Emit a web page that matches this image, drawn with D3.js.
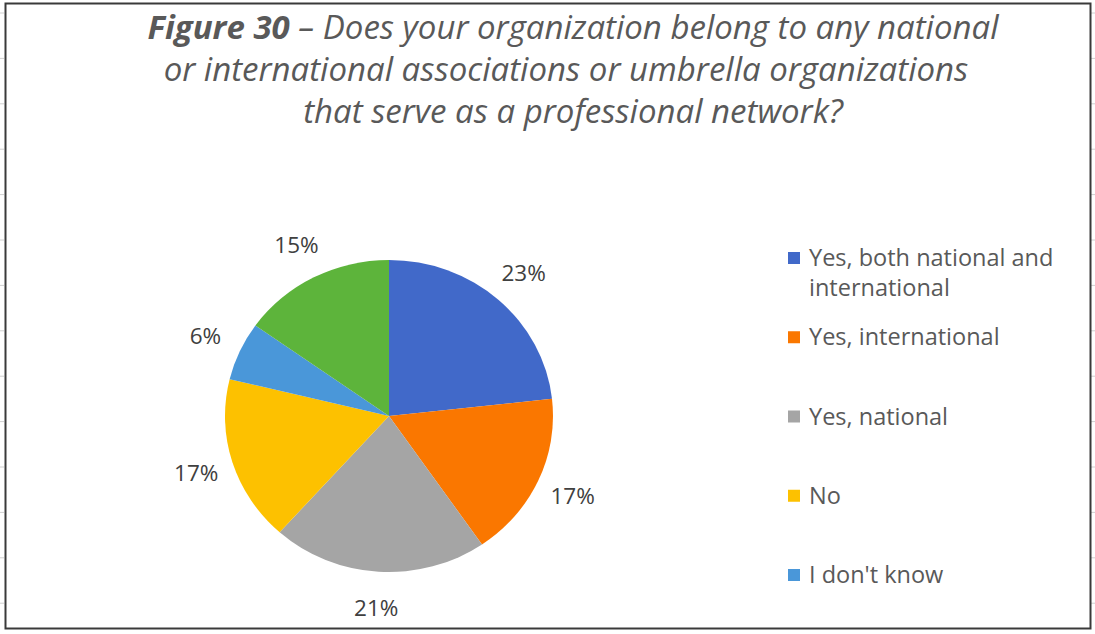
<!DOCTYPE html>
<html>
<head>
<meta charset="utf-8">
<script src="https://cdn.jsdelivr.net/npm/d3@7"></script>
<style>
  html, body { margin: 0; padding: 0; background: #fff; }
  svg { display: block; }
</style>
</head>
<body>
<svg id="chart" width="1095" height="634"></svg>
<script>
// Survey answers, in clockwise order starting at 12 o'clock
const categories = ["Yes, both national and international", "Yes, international", "Yes, national", "No", "I don't know", "Other"];
const shares = [23, 17, 21, 17, 6, 15];
const sliceColors = ["#4169C9", "#FA7700", "#A5A5A5", "#FDC100", "#4A97D9", "#5DB43B"];
// Legend entries as wrapped lines (the legend box only holds the first five)
const legendLines = [["Yes, both national and", "international"], ["Yes, international"], ["Yes, national"], ["No"], ["I don't know"]];
const titleLead = "Figure 30";
const titleLines = [" \u2013 Does your organization belong to any national",
                    "or international associations or umbrella organizations",
                    "that serve as a professional network?"];

const W = 1095, H = 634;
const svg = d3.select("#chart");

// faint sheet gridline stubs peeking out beside the frame
const stubs = d3.range(13, H, 45.4);
svg.selectAll("line.stub-l").data(stubs).join("line")
  .attr("x1", 0).attr("x2", 4).attr("y1", d => d).attr("y2", d => d)
  .attr("stroke", "#d0d0d0").attr("stroke-width", 1);
svg.selectAll("line.stub-r").data(stubs).join("line")
  .attr("x1", 1091).attr("x2", 1095).attr("y1", d => d).attr("y2", d => d)
  .attr("stroke", "#d0d0d0").attr("stroke-width", 1);

// chart frame
svg.append("rect")
  .attr("x", 5.5).attr("y", 3.5).attr("width", 1085).attr("height", 625)
  .attr("fill", "#fff").attr("stroke", "#3a3a3a").attr("stroke-width", 2);

// title
const title = svg.append("text")
  .attr("text-anchor", "middle")
  .attr("font-family", "'Open Sans', sans-serif")
  .attr("font-style", "italic")
  .attr("font-size", 33)
  .attr("fill", "#595959");
const t1 = title.append("tspan").attr("x", 573).attr("y", 39);
t1.append("tspan").attr("font-weight", "bold").text(titleLead);
t1.append("tspan").text(titleLines[0]);
title.append("tspan").attr("x", 566).attr("y", 81).text(titleLines[1]);
title.append("tspan").attr("x", 573).attr("y", 123).text(titleLines[2]);

// pie
const cx = 389, cy = 416, r = 156, sx = 164 / 156;
const pie = d3.pie().sort(null).value(d => d);
const arcs = pie(shares);
const arc = d3.arc().innerRadius(0).outerRadius(r);
const labelArc = d3.arc().innerRadius(192).outerRadius(192);
const color = d3.scaleOrdinal().domain(categories).range(sliceColors);

svg.append("g")
  .attr("transform", `translate(${cx},${cy}) scale(${sx},1)`)
  .selectAll("path").data(arcs).join("path")
  .attr("d", arc)
  .attr("fill", (d, i) => color(categories[i]));

svg.append("g").selectAll("text").data(arcs).join("text")
  .attr("x", d => cx + labelArc.centroid(d)[0] * sx)
  .attr("y", d => cy + labelArc.centroid(d)[1])
  .attr("dy", "0.36em")
  .attr("text-anchor", "middle")
  .attr("font-family", "'Open Sans', sans-serif")
  .attr("font-size", 22.5)
  .attr("fill", "#404040")
  .text(d => d.value + "%");

// legend
const rowY = d3.scalePoint().domain(d3.range(legendLines.length)).range([258, 575]);
const lg = svg.append("g").selectAll("g").data(legendLines).join("g")
  .attr("transform", (d, i) => `translate(788,${rowY(i)})`);
lg.append("rect")
  .attr("x", 0).attr("y", -6).attr("width", 12).attr("height", 12)
  .attr("fill", (d, i) => color(categories[i]));
lg.append("text")
  .attr("font-family", "'Open Sans', sans-serif")
  .attr("font-size", 23.5)
  .attr("fill", "#595959")
  .selectAll("tspan").data(d => d).join("tspan")
  .attr("x", 21).attr("y", (d, j) => 8 + j * 30)
  .text(d => d);
</script>
</body>
</html>
